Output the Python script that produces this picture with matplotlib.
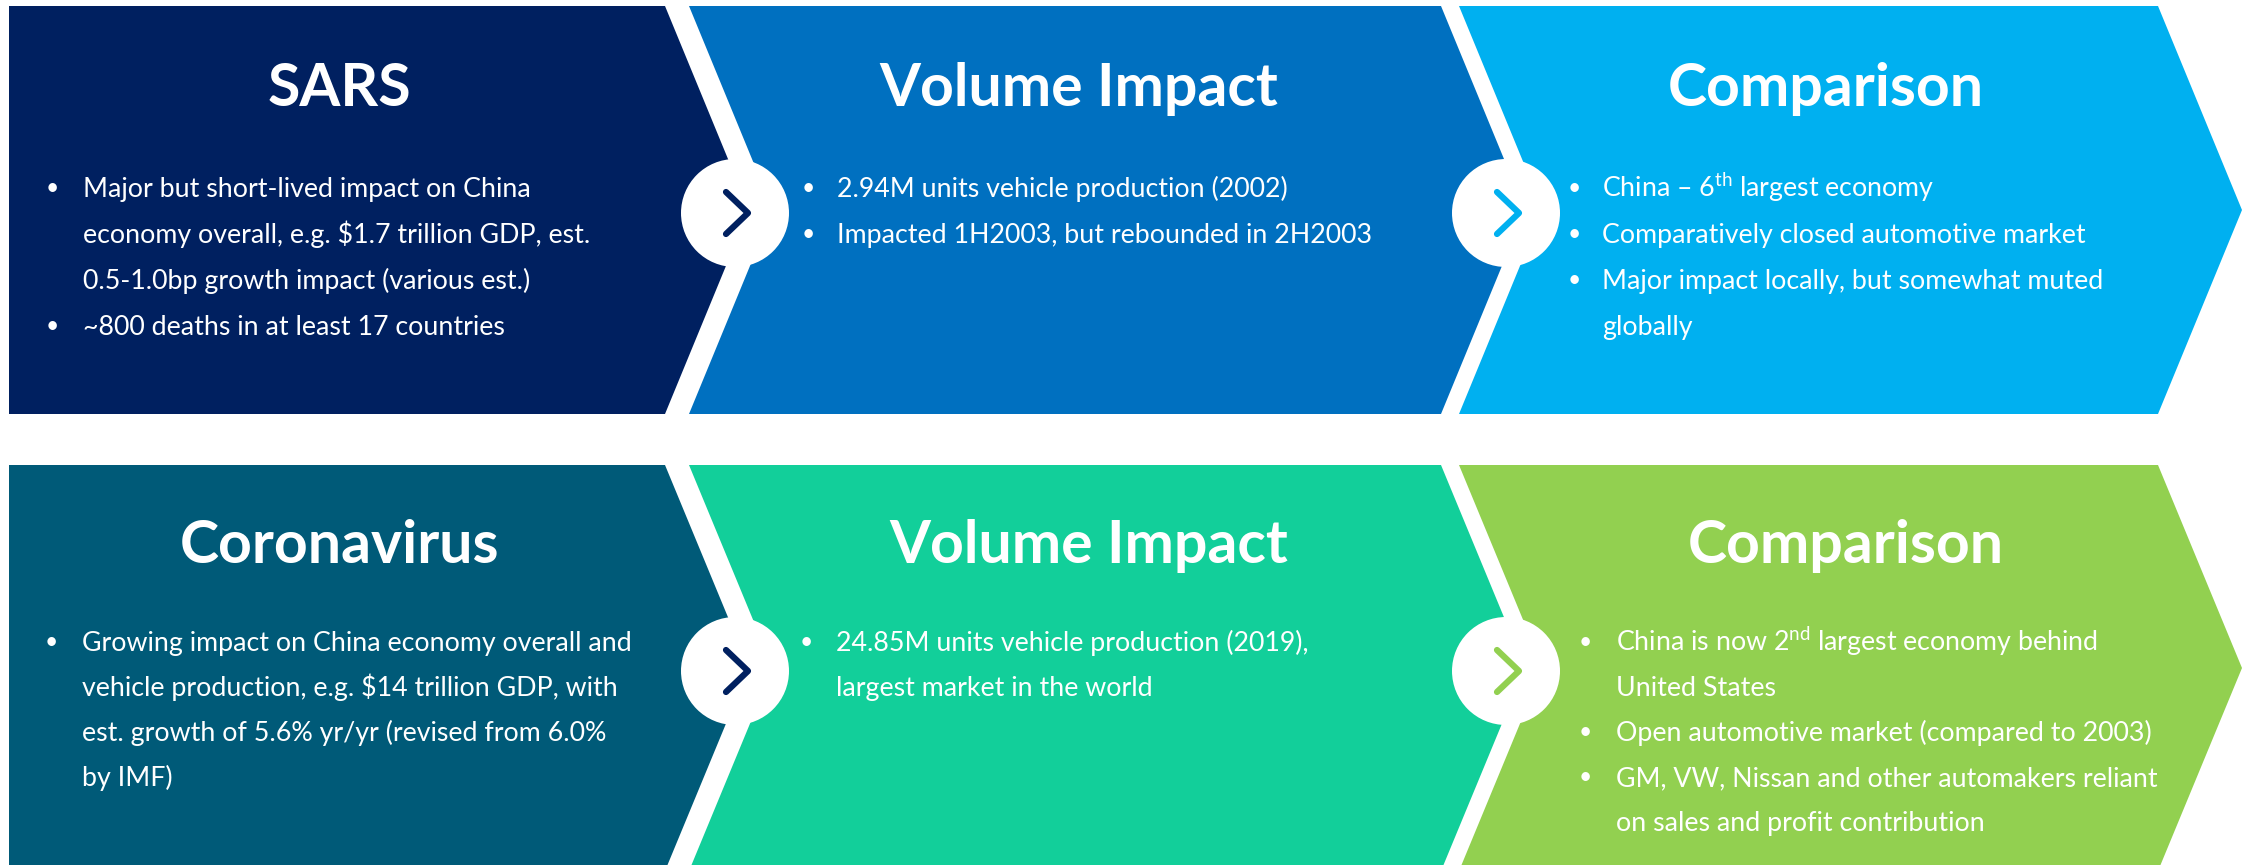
import matplotlib
matplotlib.use("Agg")
import matplotlib.pyplot as plt
from matplotlib.patches import Polygon, Ellipse
from matplotlib.lines import Line2D

W, H, DPI = 2246, 865, 100

# ---------------- content ----------------
titles = ["SARS", "Volume Impact", "Comparison",
          "Coronavirus", "Volume Impact", "Comparison"]
panel_colors = ["#002060", "#0070C0", "#00B0F0",
                "#005A78", "#12CF9A", "#92D050"]
arrow_colors = ["#002060", "#00B0F0", "#002060", "#92D050"]

sars_bullets = [
    ["Major but short-lived impact on China",
     r"economy overall, e.g. \$1.7 trillion GDP, est.",
     "0.5-1.0bp growth impact (various est.)"],
    ["~800 deaths in at least 17 countries"],
]
volume_2003_bullets = [
    ["2.94M units vehicle production (2002)"],
    ["Impacted 1H2003, but rebounded in 2H2003"],
]
comparison_2003_bullets = [
    [r"China – 6$^{\mathrm{th}}$ largest economy"],
    ["Comparatively closed automotive market"],
    ["Major impact locally, but somewhat muted", "globally"],
]
corona_bullets = [
    ["Growing impact on China economy overall and",
     r"vehicle production, e.g. \$14 trillion GDP, with",
     "est. growth of 5.6% yr/yr (revised from 6.0%",
     "by IMF)"],
]
volume_2019_bullets = [
    ["24.85M units vehicle production (2019),",
     "largest market in the world"],
]
comparison_2020_bullets = [
    [r"China is now 2$^{\mathrm{nd}}$ largest economy behind", "United States"],
    ["Open automotive market (compared to 2003)"],
    ["GM, VW, Nissan and other automakers reliant",
     "on sales and profit contribution"],
]
panel_bullets = [sars_bullets, volume_2003_bullets, comparison_2003_bullets,
                 corona_bullets, volume_2019_bullets, comparison_2020_bullets]

# ---------------- layout ----------------
FAM = ["Lato", "DejaVu Sans"]
plt.rcParams["mathtext.fontset"] = "custom"
plt.rcParams["mathtext.rm"] = "Lato"
plt.rcParams["mathtext.it"] = "Lato:italic"
plt.rcParams["mathtext.bf"] = "Lato:bold"

rows = [(6, 414), (465, 871)]
lefts = [9, 689, 1459]
rights = [665, 1441, 2158]
depth = 84
circle_x = [735, 1506]
circle_r = 54

title_pos = [(339, 106), (1079, 106), (1826, 106),
             (340, 563), (1089, 563), (1846, 563)]
bullet_x = [46, 802, 1568, 45, 800, 1579]
text_x = [83, 837, 1602, 82, 836, 1616]
base0 = [197, 197, 197, 651, 651, 651]
spacing = [46, 46, 46, 45, 45, 45]

fig = plt.figure(figsize=(W / DPI, H / DPI), dpi=DPI)
ax = fig.add_axes([0, 0, 1, 1])
ax.set_xlim(0, W)
ax.set_ylim(H, 0)
ax.axis("off")
fig.patch.set_facecolor("white")

renderer = fig.canvas.get_renderer()


def fit_size(text, target_px, weight):
    t = ax.text(0, 0, text, fontsize=20, family=FAM, weight=weight)
    w = t.get_window_extent(renderer).width
    t.remove()
    return 20 * target_px / w


title_size = fit_size("Volume Impact", 398, "bold")
body_size = fit_size("Major but short-lived impact on China", 448, "normal")

for r, (T, B) in enumerate(rows):
    C = (T + B) / 2
    for c in range(3):
        k = r * 3 + c
        L, R = lefts[c], rights[c]
        pts = [(L, T), (R, T), (R + depth, C), (R, B), (L, B)]
        if c > 0:
            pts.append((L + depth, C))
        ax.add_patch(Polygon(pts, closed=True, facecolor=panel_colors[k],
                             edgecolor="none", zorder=1))
        tx, ty = title_pos[k]
        ax.text(tx, ty, titles[k], family=FAM, weight="bold", fontsize=title_size,
                color="white", ha="center", va="baseline", zorder=3)
        line = 0
        for bullet in panel_bullets[k]:
            for i, s in enumerate(bullet):
                y = base0[k] + line * spacing[k]
                if i == 0:
                    ax.text(bullet_x[k], y - 2, "•", family=FAM,
                            fontsize=body_size * 0.85,
                            color="white", ha="left", va="baseline", zorder=3)
                ax.text(text_x[k], y, s, family=FAM, fontsize=body_size,
                        color="white", ha="left", va="baseline", zorder=3)
                line += 1
    for j, cx in enumerate(circle_x):
        cy = C + 3
        ax.add_patch(Ellipse((cx, cy), 2 * circle_r, 2 * circle_r,
                             facecolor="white", edgecolor="none", zorder=4))
        ax.add_line(Line2D([cx - 9, cx + 13, cx - 9], [cy - 21, cy, cy + 21],
                           color=arrow_colors[r * 2 + j], lw=4.5,
                           solid_capstyle="round", solid_joinstyle="round",
                           zorder=5))

fig.savefig("out.png", dpi=DPI, facecolor="white")
